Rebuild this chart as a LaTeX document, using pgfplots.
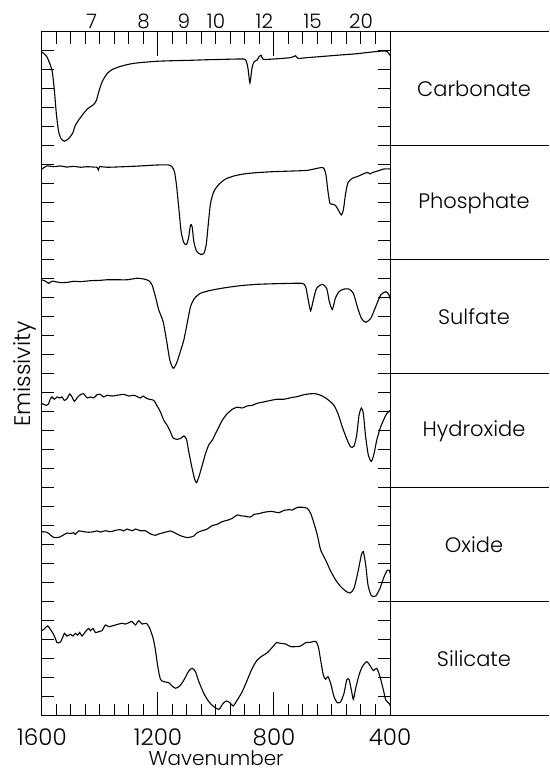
\documentclass[border=0pt]{standalone}
\usepackage{pgfplots}
\pgfplotsset{compat=1.18}
\usepackage{pgfplotstable}
\usepackage{fontspec}
\setmainfont{Poppins}[UprightFont={* Light}]

% Emissivity spectra, each in its own band of 6 units (0 = band bottom)
\pgfplotstableread{
wn v
1600.0 4.95
1582.7 4.68
1565.5 3.98
1557.4 2.93
1550.5 1.70
1542.5 0.74
1534.4 0.39
1522.9 0.25
1508.0 0.39
1494.1 0.68
1484.9 1.09
1467.7 1.49
1444.6 1.93
1421.6 2.19
1412.4 2.40
1404.4 2.84
1392.9 3.37
1375.6 3.81
1358.4 4.02
1329.6 4.19
1295.1 4.32
1260.5 4.39
1203.0 4.46
1145.5 4.49
1088.0 4.51
1030.4 4.54
972.9 4.56
915.3 4.58
898.1 4.54
890.0 4.12
883.1 3.32
876.2 4.07
869.3 4.42
857.8 4.53
850.9 4.72
844.0 4.77
837.1 4.56
800.3 4.58
742.7 4.65
725.5 4.75
717.4 4.61
685.2 4.65
627.6 4.72
570.1 4.79
512.6 4.86
455.0 4.96
420.5 5.00
409.0 4.96
399.8 4.77
}\carbonate

\pgfplotstableread{
wn v
1600.0 4.79
1582.7 4.95
1559.7 4.91
1536.7 4.95
1513.7 4.89
1490.7 4.93
1467.7 4.88
1444.7 4.91
1421.6 4.89
1410.1 4.88
1405.5 4.74
1400.9 4.91
1375.6 4.88
1318.1 4.91
1260.5 4.95
1203.0 5.00
1162.7 5.00
1151.2 4.89
1143.2 4.65
1136.3 3.95
1128.2 2.72
1120.2 1.49
1110.9 0.91
1101.7 0.82
1094.8 1.14
1087.9 1.84
1082.2 1.75
1076.4 0.96
1067.2 0.47
1053.4 0.30
1041.9 0.35
1033.8 0.79
1026.9 1.84
1018.9 2.98
1007.4 3.60
990.1 3.98
967.1 4.26
938.3 4.42
903.8 4.53
857.8 4.60
800.3 4.65
742.7 4.68
685.2 4.72
639.2 4.86
627.6 4.82
620.7 4.47
613.8 3.60
606.9 2.98
595.4 2.93
587.4 2.86
578.2 2.63
567.8 2.37
560.9 2.63
552.9 3.51
544.8 4.07
529.8 4.30
512.6 4.39
495.3 4.51
478.0 4.61
468.8 4.53
460.8 4.60
443.5 4.68
420.5 4.79
399.8 4.79
}\phosphate

\pgfplotstableread{
wn v
1600.0 4.95
1588.5 4.89
1577.0 4.77
1565.5 4.89
1554.0 4.86
1536.7 4.81
1513.7 4.82
1490.7 4.88
1467.7 4.86
1433.1 4.91
1398.6 4.93
1375.6 4.96
1341.1 4.96
1306.6 4.96
1272.0 5.04
1249.0 5.00
1231.8 4.91
1220.3 4.68
1208.8 4.07
1197.3 3.37
1182.3 2.75
1170.8 1.79
1159.3 0.74
1147.7 0.30
1136.3 0.56
1124.7 1.09
1110.9 1.79
1099.4 2.67
1087.9 3.54
1074.1 3.98
1053.4 4.25
1018.9 4.40
972.9 4.53
915.3 4.65
857.8 4.72
800.3 4.75
742.7 4.77
702.5 4.77
691.0 4.60
681.7 3.89
673.7 3.33
664.5 3.89
653.0 4.51
633.4 4.72
618.4 4.51
609.2 3.81
598.9 3.40
588.5 3.98
575.9 4.33
558.6 4.47
541.4 4.47
526.4 4.25
512.6 3.54
498.7 2.93
483.8 2.72
466.5 2.93
449.3 3.54
432.0 4.16
414.7 4.33
403.3 4.16
395.2 3.70
}\sulfate

\pgfplotstableread{
wn v
1600.0 4.44
1592.0 4.39
1585.0 4.35
1577.0 4.44
1571.2 4.70
1565.5 4.79
1557.4 4.67
1548.2 4.79
1539.0 4.74
1531.0 4.79
1522.9 4.61
1513.7 4.70
1504.5 4.95
1496.4 4.79
1488.4 4.56
1479.2 4.74
1467.7 4.91
1456.2 4.96
1444.7 4.74
1433.1 4.79
1421.6 4.74
1410.1 4.91
1398.6 4.93
1387.1 4.79
1375.6 4.88
1358.4 4.84
1341.1 4.88
1318.1 4.93
1300.8 4.84
1283.6 4.88
1272.0 4.81
1260.5 4.74
1251.3 4.84
1237.5 4.70
1214.5 4.61
1203.0 4.32
1191.5 4.00
1180.0 3.56
1168.5 3.30
1157.0 2.95
1147.7 2.63
1134.0 2.56
1122.4 2.60
1110.9 2.74
1101.7 2.56
1093.7 1.89
1082.2 1.02
1074.1 0.49
1067.2 0.28
1059.2 0.58
1047.6 1.19
1036.1 1.81
1024.6 2.28
1013.1 2.51
995.9 3.04
978.6 3.56
961.3 3.91
944.1 4.14
926.8 4.25
909.6 4.21
892.3 4.32
875.0 4.35
857.8 4.46
834.8 4.53
811.8 4.61
788.8 4.67
765.7 4.67
742.7 4.75
719.7 4.81
696.7 4.91
673.7 4.96
656.4 4.96
639.2 4.88
621.9 4.74
604.7 4.53
593.1 4.35
579.3 3.91
564.4 3.21
549.4 2.60
535.6 2.16
524.1 2.21
514.9 2.77
506.9 3.82
498.8 4.21
491.9 3.91
483.8 2.68
474.6 1.72
464.3 1.40
455.0 1.81
445.8 2.51
434.4 3.12
422.8 3.56
411.3 3.91
399.8 4.09
}\hydroxide

\pgfplotstableread{
wn v
1600.0 3.70
1582.7 3.67
1571.2 3.53
1559.7 3.40
1542.5 3.40
1525.2 3.53
1513.7 3.63
1502.2 3.60
1490.7 3.65
1484.9 3.56
1473.4 3.74
1456.2 3.70
1438.9 3.67
1421.6 3.70
1410.1 3.74
1398.6 3.68
1381.4 3.75
1364.1 3.70
1346.8 3.77
1329.6 3.81
1318.1 3.74
1306.6 3.84
1289.3 3.75
1277.8 3.84
1260.5 3.75
1243.3 3.75
1226.0 3.58
1208.8 3.51
1197.3 3.58
1180.0 3.65
1157.0 3.74
1145.5 3.67
1122.4 3.49
1099.4 3.39
1076.4 3.47
1064.9 3.65
1047.6 3.75
1030.4 3.84
1013.1 4.02
995.9 4.09
978.6 4.23
961.3 4.30
944.1 4.40
926.8 4.58
915.3 4.54
898.1 4.51
880.8 4.47
869.3 4.61
852.0 4.65
834.8 4.72
811.8 4.77
800.3 4.75
783.0 4.70
765.7 4.82
748.5 4.86
737.0 4.84
719.7 4.98
696.7 4.98
685.2 4.93
673.7 4.67
662.2 4.14
650.7 3.53
639.2 2.74
621.9 2.21
604.7 1.63
587.4 1.16
570.1 0.81
552.9 0.58
537.9 0.47
524.1 0.72
510.3 1.60
498.8 2.47
491.9 2.65
483.8 1.95
475.8 0.89
464.3 0.33
449.3 0.32
434.4 0.72
420.5 1.33
409.0 1.68
403.3 1.68
397.5 1.42
}\oxide

\pgfplotstableread{
wn v
1600.0 4.50
1594.2 4.56
1580.4 4.74
1571.2 4.56
1562.0 4.35
1554.0 4.09
1548.2 3.86
1536.7 3.89
1527.5 4.18
1522.9 4.35
1513.7 4.21
1502.2 4.30
1493.0 4.21
1484.9 4.35
1476.9 4.26
1470.0 4.40
1461.9 4.21
1450.4 4.44
1438.9 4.61
1433.1 4.49
1424.0 4.61
1415.9 4.39
1404.4 4.44
1392.9 4.49
1381.4 4.79
1369.9 4.70
1358.4 4.74
1346.8 4.79
1335.3 4.84
1323.8 4.88
1312.3 4.84
1300.8 4.91
1289.3 4.98
1277.8 4.79
1266.3 5.02
1254.8 4.84
1239.8 4.88
1228.3 4.61
1216.8 4.09
1208.8 3.47
1200.7 2.60
1191.5 1.93
1180.0 1.81
1162.7 1.75
1151.2 1.58
1139.7 1.46
1124.7 1.58
1110.9 1.89
1093.7 2.37
1082.2 2.51
1070.7 2.33
1059.2 1.81
1041.9 1.19
1024.6 0.75
1007.4 0.49
990.1 0.35
975.2 0.67
963.6 0.79
952.1 0.70
940.6 0.53
926.8 0.84
909.6 1.28
892.3 1.89
875.0 2.51
857.8 2.95
840.5 3.16
823.3 3.33
806.0 3.61
791.1 3.86
777.2 3.82
760.0 3.79
742.7 3.65
725.5 3.65
708.2 3.68
690.9 3.86
673.7 3.88
656.4 3.93
647.2 3.65
639.2 2.95
630.0 2.16
621.9 1.93
613.8 2.07
604.7 1.72
593.1 1.02
581.6 0.70
570.1 0.75
558.6 1.19
549.4 1.89
541.4 1.93
533.3 1.37
526.4 0.88
518.3 1.46
506.8 2.16
495.3 2.60
480.3 2.86
466.5 2.60
457.3 2.39
445.8 2.51
434.4 2.07
422.8 1.37
414.7 0.84
403.3 0.67
397.5 0.49
}\silicate

\begin{document}
\begin{tikzpicture}
\path[use as bounding box] (0,0) rectangle (549pt,773pt);

% main frame with the six stacked spectra
\begin{axis}[
  at={(42pt,57pt)}, anchor=south west,
  scale only axis, width=348pt, height=684pt,
  x dir=reverse, xmin=400, xmax=1600, ymin=0, ymax=36,
  axis line style={line width=1pt},
  every tick/.style={black, line width=1pt},
  tick align=inside,
  major tick length=12pt,
  xtick={400,450,...,1600},
  xticklabels={},
  ytick={0,1,...,36},
  yticklabels={},
  extra x ticks={400,800,1200,1600},
  extra x tick labels={400,800,1200,1600},
  extra x tick style={major tick length=24pt,
    xticklabel style={font=\fontsize{23}{26}\selectfont, anchor=base, yshift=-29pt}},
  xlabel={Wavenumber},
  xlabel style={font=\fontsize{20}{24}\selectfont, inner sep=0pt,
    at={(axis description cs:0.5,-0.0614)}, anchor=center},
  ylabel={Emissivity},
  ylabel style={font=\fontsize{22.5}{26}\selectfont, inner sep=0pt,
    at={(axis description cs:-0.05,0.5)}, anchor=center},
  /pgf/number format/assume math mode=true,
]
\addplot[black, line width=1.1pt, smooth, tension=0.4] table[x=wn, y expr=\thisrow{v}+30] {\carbonate};
\addplot[black, line width=1.1pt, smooth, tension=0.4] table[x=wn, y expr=\thisrow{v}+24] {\phosphate};
\addplot[black, line width=1.1pt, smooth, tension=0.4] table[x=wn, y expr=\thisrow{v}+18] {\sulfate};
\addplot[black, line width=1.1pt, smooth, tension=0.4] table[x=wn, y expr=\thisrow{v}+12] {\hydroxide};
\addplot[black, line width=1.1pt, smooth, tension=0.4] table[x=wn, y expr=\thisrow{v}+6] {\oxide};
\addplot[black, line width=1.1pt, smooth, tension=0.4] table[x=wn, y expr=\thisrow{v}] {\silicate};
\end{axis}

% wavelength scale (micrometres) along the top
\begin{axis}[
  at={(42pt,57pt)}, anchor=south west,
  scale only axis, width=348pt, height=684pt,
  x dir=reverse, xmin=400, xmax=1600, ymin=0, ymax=1,
  axis x line*=top, axis y line=none,
  axis line style={draw=none},
  xtick={1428.57,1250,1111.11,1000,833.33,666.67,500},
  xticklabels={7,8,9,10,12,15,20},
  major tick length=0pt,
  xticklabel style={font=\fontsize{20}{23}\selectfont, anchor=base, yshift=3pt},
]
\end{axis}

% name panel on the right
\foreach \k in {0,...,6}
  \draw[line width=1pt] (390pt,{57pt+\k*114pt}) -- (549pt,{57pt+\k*114pt});
\foreach \k/\name in {5/Carbonate,4/Phosphate,3/Sulfate,2/Hydroxide,1/Oxide,0/Silicate}
  \node[font=\fontsize{21}{25}\selectfont] at (474pt,{57pt+(\k+0.5)*114pt}) {\name};
\end{tikzpicture}
\end{document}
